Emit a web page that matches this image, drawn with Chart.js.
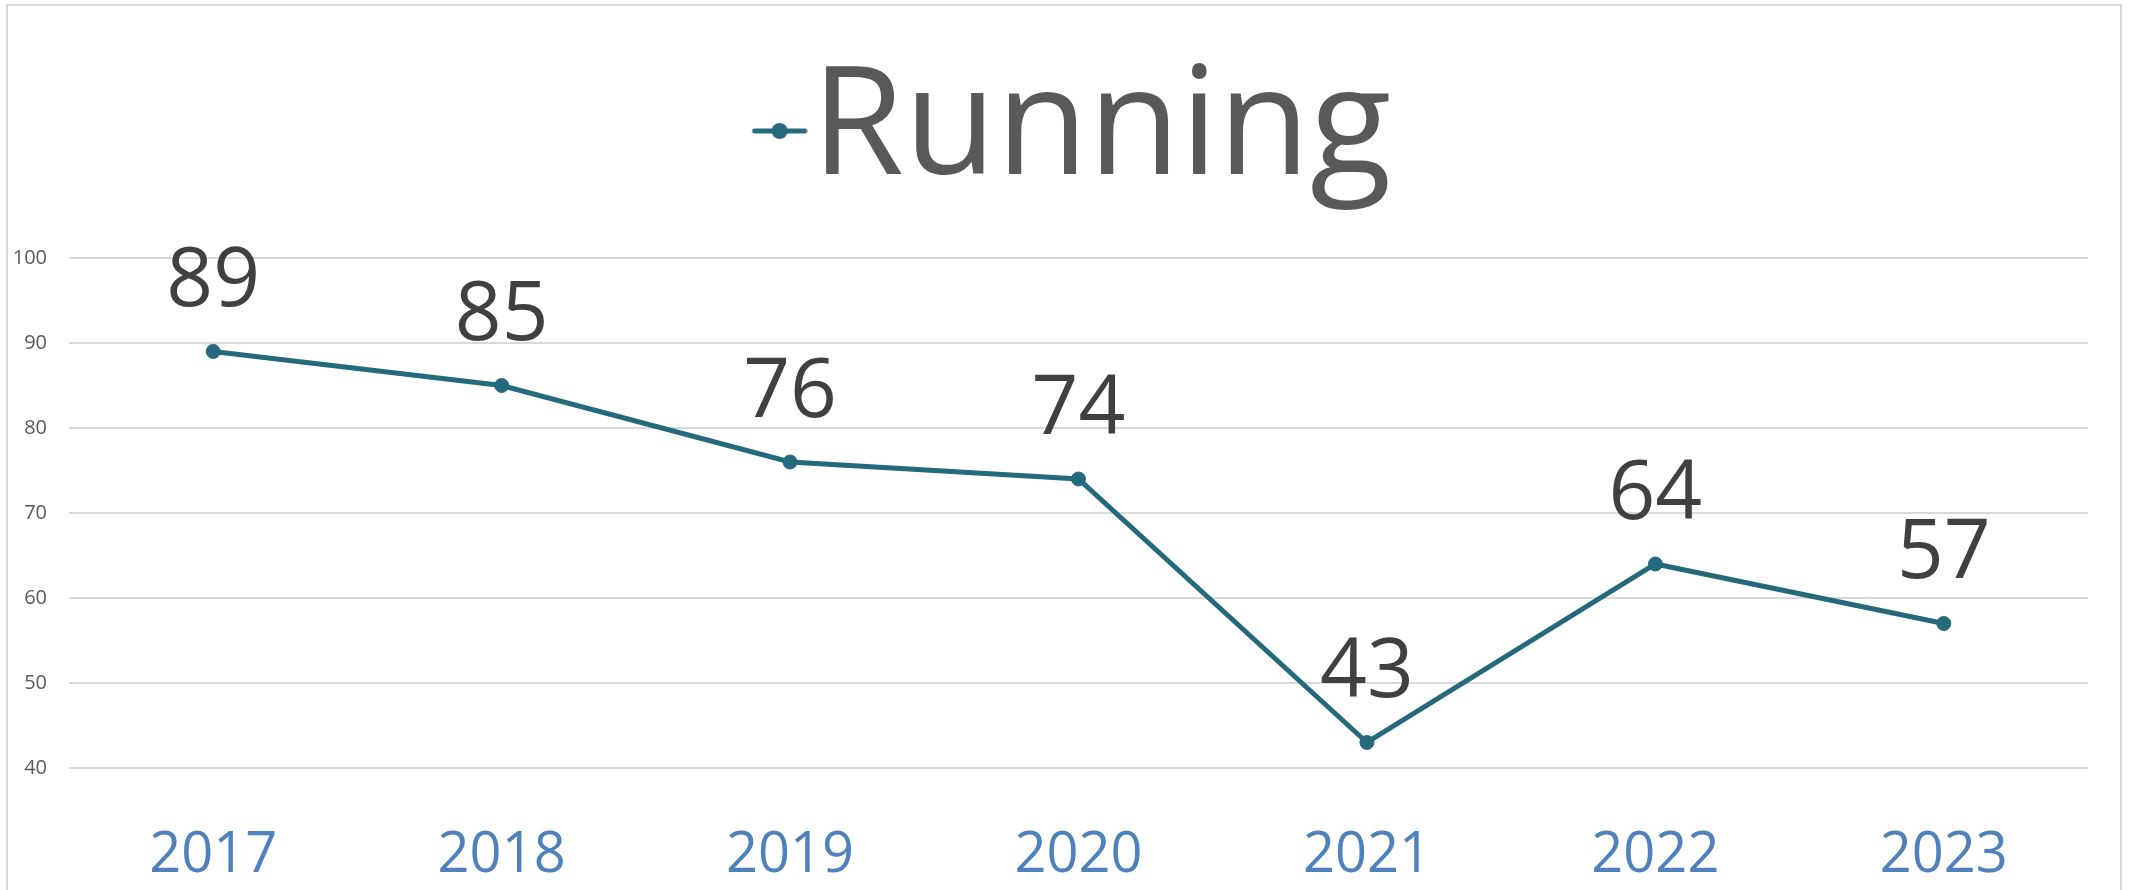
<!DOCTYPE html>
<html>
<head>
<meta charset="utf-8">
<script src="https://cdn.jsdelivr.net/npm/chart.js@4"></script>
<style>
  html, body { margin: 0; padding: 0; background: #fff; overflow: hidden; }
  #wrap {
    position: absolute; left: 6px; top: 4px;
    width: 2116px; height: 900px;
    border: 2px solid #d9d9d9; box-sizing: border-box;
  }
  #chart { position: absolute; left: 0; top: 0; }
</style>
</head>
<body>
<div id="wrap"><canvas id="chart" width="2112" height="884"></canvas></div>
<script>
/* ===== DATA ===== */
const years = ["2017", "2018", "2019", "2020", "2021", "2022", "2023"];
const running = [89, 85, 76, 74, 43, 64, 57];
const seriesName = "Running";
const yMin = 40, yStep = 10;

/* ===== STYLE ===== */
const TEAL = "#256a7c";
const FONT = "'Open Sans', 'Noto Sans', sans-serif";

// legend marker: short line with a dot, pushed to the right edge of the image
function legendMarker() {
  const c = document.createElement("canvas");
  c.width = 174; c.height = 20;
  const g = c.getContext("2d");
  g.strokeStyle = TEAL; g.lineWidth = 5; g.lineCap = "round";
  g.beginPath(); g.moveTo(c.width - 53, 10); g.lineTo(c.width - 3, 10); g.stroke();
  g.fillStyle = TEAL;
  g.beginPath(); g.arc(c.width - 28, 10, 8, 0, Math.PI * 2); g.fill();
  return c;
}

/* ===== DATA LABELS ===== */
const valueLabels = {
  id: "valueLabels",
  afterDatasetsDraw(chart) {
    const ctx = chart.ctx;
    const meta = chart.getDatasetMeta(0);
    ctx.save();
    ctx.font = `82px ${FONT}`;
    ctx.fillStyle = "#404040";
    ctx.textAlign = "center";
    ctx.textBaseline = "alphabetic";
    meta.data.forEach((pt, i) => {
      ctx.fillText(String(running[i]), pt.x, pt.y - 45);
    });
    ctx.restore();
  }
};

/* ===== CHART ===== */
new Chart(document.getElementById("chart"), {
  type: "line",
  data: {
    labels: years,
    datasets: [{
      label: seriesName,
      data: running,
      borderColor: TEAL,
      backgroundColor: TEAL,
      borderWidth: 5,
      pointRadius: 7,
      pointBorderWidth: 1,
      pointBackgroundColor: TEAL,
      tension: 0
    }]
  },
  options: {
    responsive: false,
    animation: false,
    layout: { padding: { top: 0, right: 32, bottom: 0, left: 0 } },
    plugins: {
      tooltip: { enabled: false },
      legend: {
        position: "top",
        labels: {
          usePointStyle: true,
          pointStyle: legendMarker(),
          pointStyleWidth: 32,
          padding: 50,
          color: "#595959",
          font: { family: FONT, size: 150 }
        }
      }
    },
    scales: {
      x: {
        offset: true,
        grid: { display: false, drawTicks: false },
        border: { display: false },
        ticks: { color: "#4f81bd", padding: 54, font: { family: FONT, size: 56 } },
        afterFit: s => { s.height = 122; }
      },
      y: {
        min: yMin,
        max: 104.94,
        grid: { color: "#d9d9d9", lineWidth: 2, drawTicks: false },
        border: { display: false },
        ticks: {
          stepSize: yStep,
          includeBounds: false,
          padding: 22,
          color: "#595959",
          font: { family: FONT, size: 20 }
        },
        afterFit: s => { s.width = 61; }
      }
    }
  },
  plugins: [valueLabels]
});
</script>
</body>
</html>
